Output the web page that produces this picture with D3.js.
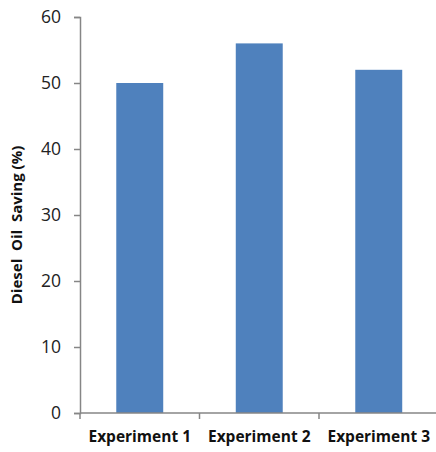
<!DOCTYPE html>
<html><head><meta charset="utf-8">
<script src="https://cdn.jsdelivr.net/npm/d3@7"></script>
<style>body{margin:0;background:#fff}svg{display:block}</style>
</head><body>
<script>
const categories = ["Experiment 1", "Experiment 2", "Experiment 3"];
const values = [50, 56, 52];
const yTicks = [0, 10, 20, 30, 40, 50, 60];
const yLabel = "Diesel  Oil  Saving (%)";

const W = 436, H = 452;
const svg = d3.select("body").append("svg").attr("width", W).attr("height", H);
const x0 = 80, x1 = 438.5, yTop = 17, yBot = 413;

const x = d3.scaleBand().domain(categories).range([x0, x1]).paddingInner(0.607).paddingOuter(0.3035);
const y = d3.scaleLinear().domain([0, 60]).range([yBot, yTop]);

svg.selectAll("rect.bar").data(values).enter().append("rect")
  .attr("x", (d, i) => x(categories[i]))
  .attr("y", d => y(d))
  .attr("width", x.bandwidth())
  .attr("height", d => y(0) - y(d))
  .attr("fill", "#4F81BD");

// y axis
const ya = svg.append("g").attr("transform", `translate(${x0},0)`)
  .call(d3.axisLeft(y).tickValues(yTicks).tickSize(6).tickPadding(13));
ya.select(".domain").attr("stroke", "#868686").attr("stroke-width", 1.5);
ya.selectAll(".tick line").attr("stroke", "#868686").attr("stroke-width", 1.5);
ya.selectAll(".tick text").attr("font-family", "Open Sans, sans-serif").attr("font-size", 17.5).attr("fill", "#222");

// x axis
const step = x.step();
const xa = svg.append("g").attr("transform", `translate(0,${yBot})`)
  .call(d3.axisBottom(x).tickSize(0).tickPadding(18));
xa.select(".domain").attr("d", `M${x0},0H${W}`).attr("stroke", "#868686").attr("stroke-width", 1.5);
xa.selectAll(".tick text").attr("font-family", "Open Sans, sans-serif").attr("font-weight", "bold")
  .attr("font-size", 15.5).attr("fill", "#111");
const bounds = d3.range(categories.length + 1).map(i => x0 + i * step);
svg.append("g").selectAll("line").data(bounds.filter(b => b < W)).enter().append("line")
  .attr("x1", d => d).attr("x2", d => d).attr("y1", yBot).attr("y2", yBot + 6)
  .attr("stroke", "#868686").attr("stroke-width", 1.5);

svg.append("text")
  .attr("transform", `translate(22,${(yTop + yBot) / 2 + 10}) rotate(-90)`)
  .attr("text-anchor", "middle")
  .attr("font-family", "Open Sans, sans-serif").attr("font-weight", "bold").attr("font-size", 15)
  .attr("fill", "#111")
  .style("white-space", "pre")
  .text(yLabel);
</script>
</body></html>
